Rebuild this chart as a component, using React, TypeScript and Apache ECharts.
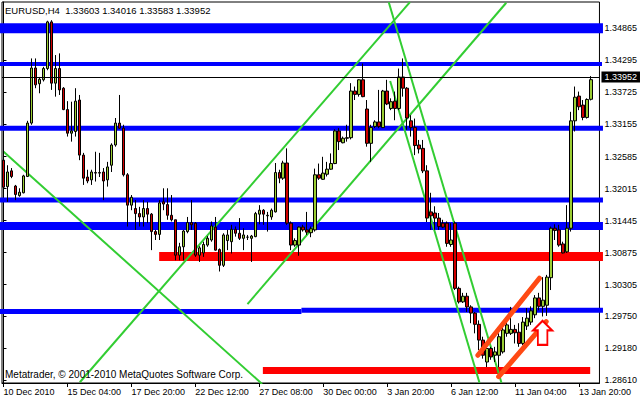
import React, { useEffect, useRef } from 'react';
import * as echarts from 'echarts';

const FONT = '"Liberation Sans", Arial, sans-serif';

const titleText = 'EURUSD,H4  1.33603 1.34016 1.33583 1.33952';
const copyrightText = 'Metatrader, \u00a9 2001-2010 MetaQuotes Software Corp.';

// time axis tick labels and the bar index each one marks
const timeLabels = [
  '10 Dec 2010', '15 Dec 04:00', '17 Dec 20:00', '22 Dec 12:00', '27 Dec 08:00',
  '30 Dec 00:00', '3 Jan 20:00', '6 Jan 12:00', '11 Jan 04:00', '13 Jan 20:00',
];
const timeLabelBars = [0, 16, 32, 48, 64, 80, 96, 112, 128, 144];

// price axis tick labels
const priceTicks = [
  1.2861, 1.2918, 1.2975, 1.30305, 1.30875, 1.31445, 1.32015, 1.32585, 1.33155, 1.33725, 1.34295, 1.34865,
];

const bidPrice = 1.33952;

// H4 candles: [open, close, low, high]
const candles: number[][] = [
  [1.3252, 1.3204, 1.3199, 1.3274], [1.3205, 1.3231, 1.3178, 1.3243], [1.3233, 1.3223, 1.3220, 1.3238],
  [1.3206, 1.3191, 1.3181, 1.3208], [1.3189, 1.3195, 1.3187, 1.3202], [1.3194, 1.3224, 1.3193, 1.3226],
  [1.3223, 1.3318, 1.3222, 1.3322], [1.3318, 1.3416, 1.3315, 1.3433], [1.3416, 1.3386, 1.3380, 1.3433],
  [1.3388, 1.3396, 1.3371, 1.3400], [1.3395, 1.3415, 1.3392, 1.3418], [1.3415, 1.3498, 1.3412, 1.3500],
  [1.3498, 1.3389, 1.3377, 1.3501], [1.3389, 1.3415, 1.3365, 1.3439], [1.3415, 1.3377, 1.3368, 1.3442],
  [1.3380, 1.3342, 1.3341, 1.3382], [1.3342, 1.3300, 1.3294, 1.3357], [1.3300, 1.3304, 1.3285, 1.3356],
  [1.3303, 1.3357, 1.3294, 1.3380], [1.3359, 1.3261, 1.3252, 1.3368], [1.3261, 1.3220, 1.3208, 1.3265],
  [1.3222, 1.3215, 1.3211, 1.3235], [1.3217, 1.3231, 1.3208, 1.3235], [1.3230, 1.3229, 1.3214, 1.3267],
  [1.3229, 1.3230, 1.3222, 1.3265], [1.3231, 1.3215, 1.3181, 1.3238], [1.3217, 1.3240, 1.3205, 1.3249],
  [1.3243, 1.3279, 1.3231, 1.3282], [1.3279, 1.3318, 1.3276, 1.3327], [1.3318, 1.3309, 1.3308, 1.3368],
  [1.3309, 1.3226, 1.3223, 1.3315], [1.3226, 1.3172, 1.3134, 1.3229], [1.3172, 1.3186, 1.3163, 1.3190],
  [1.3166, 1.3157, 1.3128, 1.3181], [1.3157, 1.3151, 1.3134, 1.3169], [1.3151, 1.3166, 1.3134, 1.3181],
  [1.3166, 1.3156, 1.3140, 1.3178], [1.3156, 1.3125, 1.3092, 1.3158], [1.3125, 1.3120, 1.3110, 1.3128],
  [1.3120, 1.3176, 1.3110, 1.3181], [1.3178, 1.3174, 1.3163, 1.3202], [1.3173, 1.3154, 1.3146, 1.3202],
  [1.3154, 1.3146, 1.3143, 1.3190], [1.3146, 1.3083, 1.3074, 1.3146], [1.3083, 1.3098, 1.3074, 1.3105],
  [1.3098, 1.3126, 1.3074, 1.3128], [1.3125, 1.3141, 1.3122, 1.3151], [1.3141, 1.3137, 1.3128, 1.3181],
  [1.3140, 1.3083, 1.3080, 1.3142], [1.3083, 1.3096, 1.3071, 1.3099], [1.3087, 1.3102, 1.3080, 1.3107],
  [1.3101, 1.3113, 1.3098, 1.3117], [1.3110, 1.3135, 1.3107, 1.3143], [1.3133, 1.3092, 1.3091, 1.3151],
  [1.3093, 1.3065, 1.3054, 1.3095], [1.3065, 1.3119, 1.3062, 1.3122], [1.3109, 1.3119, 1.3092, 1.3128],
  [1.3107, 1.3129, 1.3086, 1.3137], [1.3129, 1.3122, 1.3116, 1.3134], [1.3122, 1.3113, 1.3110, 1.3149],
  [1.3113, 1.3119, 1.3092, 1.3131], [1.3115, 1.3115, 1.3110, 1.3119], [1.3113, 1.3117, 1.3071, 1.3119],
  [1.3116, 1.3157, 1.3115, 1.3160], [1.3156, 1.3163, 1.3138, 1.3172], [1.3163, 1.3156, 1.3137, 1.3165],
  [1.3153, 1.3154, 1.3125, 1.3160], [1.3151, 1.3163, 1.3146, 1.3166], [1.3160, 1.3230, 1.3159, 1.3247],
  [1.3230, 1.3220, 1.3211, 1.3235], [1.3220, 1.3247, 1.3217, 1.3251], [1.3247, 1.3140, 1.3137, 1.3273],
  [1.3140, 1.3101, 1.3092, 1.3143], [1.3101, 1.3109, 1.3098, 1.3113], [1.3101, 1.3133, 1.3082, 1.3134],
  [1.3133, 1.3128, 1.3125, 1.3137], [1.3128, 1.3124, 1.3119, 1.3160], [1.3123, 1.3130, 1.3115, 1.3134],
  [1.3128, 1.3226, 1.3125, 1.3237], [1.3226, 1.3220, 1.3217, 1.3246], [1.3218, 1.3229, 1.3217, 1.3258],
  [1.3227, 1.3236, 1.3223, 1.3249], [1.3236, 1.3246, 1.3235, 1.3264], [1.3246, 1.3304, 1.3245, 1.3307],
  [1.3304, 1.3285, 1.3270, 1.3309], [1.3283, 1.3291, 1.3282, 1.3294], [1.3291, 1.3292, 1.3285, 1.3315],
  [1.3292, 1.3375, 1.3289, 1.3389], [1.3375, 1.3369, 1.3359, 1.3383], [1.3369, 1.3395, 1.3365, 1.3396],
  [1.3395, 1.3365, 1.3364, 1.3424], [1.3343, 1.3282, 1.3276, 1.3359], [1.3282, 1.3310, 1.3249, 1.3315],
  [1.3312, 1.3320, 1.3309, 1.3323], [1.3320, 1.3312, 1.3309, 1.3377], [1.3310, 1.3375, 1.3309, 1.3377],
  [1.3375, 1.3352, 1.3350, 1.3395], [1.3344, 1.3356, 1.3341, 1.3362], [1.3357, 1.3344, 1.3323, 1.3374],
  [1.3344, 1.3400, 1.3341, 1.3415], [1.3400, 1.3380, 1.3365, 1.3433], [1.3380, 1.3327, 1.3306, 1.3382],
  [1.3322, 1.3310, 1.3294, 1.3332], [1.3310, 1.3278, 1.3261, 1.3326], [1.3279, 1.3272, 1.3264, 1.3288],
  [1.3273, 1.3233, 1.3229, 1.3288], [1.3233, 1.3149, 1.3142, 1.3243], [1.3160, 1.3153, 1.3128, 1.3194],
  [1.3158, 1.3149, 1.3128, 1.3170], [1.3149, 1.3134, 1.3128, 1.3158], [1.3140, 1.3133, 1.3131, 1.3146],
  [1.3140, 1.3104, 1.3098, 1.3143], [1.3102, 1.3110, 1.3098, 1.3140], [1.3140, 1.3024, 1.3021, 1.3143],
  [1.3024, 1.3000, 1.2997, 1.3027], [1.3000, 1.3010, 1.2998, 1.3016], [1.3010, 1.2991, 1.2982, 1.3016],
  [1.2991, 1.2980, 1.2962, 1.2994], [1.2980, 1.2960, 1.2944, 1.2982], [1.2960, 1.2932, 1.2914, 1.2967],
  [1.2932, 1.2905, 1.2899, 1.2938], [1.2893, 1.2917, 1.2884, 1.2920], [1.2917, 1.2902, 1.2897, 1.2920],
  [1.2905, 1.2911, 1.2893, 1.2920], [1.2905, 1.2938, 1.2884, 1.2944], [1.2911, 1.2950, 1.2908, 1.2962],
  [1.2944, 1.2959, 1.2938, 1.2965], [1.2944, 1.2951, 1.2941, 1.2991], [1.2951, 1.2945, 1.2926, 1.2959],
  [1.2946, 1.2926, 1.2920, 1.2962], [1.2926, 1.2964, 1.2923, 1.2973], [1.2957, 1.2971, 1.2950, 1.2989],
  [1.2964, 1.2984, 1.2959, 1.2992], [1.2977, 1.3007, 1.2971, 1.3012], [1.3007, 1.2992, 1.2985, 1.3016],
  [1.2992, 1.3003, 1.2974, 1.3044], [1.2994, 1.3044, 1.2975, 1.3048], [1.3043, 1.3131, 1.3021, 1.3134],
  [1.3131, 1.3127, 1.3110, 1.3138], [1.3128, 1.3101, 1.3098, 1.3137], [1.3103, 1.3087, 1.3086, 1.3107],
  [1.3089, 1.3131, 1.3087, 1.3172], [1.3131, 1.3322, 1.3125, 1.3338], [1.3322, 1.3364, 1.3303, 1.3383],
  [1.3366, 1.3347, 1.3341, 1.3374], [1.3350, 1.3328, 1.3323, 1.3359], [1.3328, 1.3360, 1.3326, 1.3362],
  [1.33603, 1.33952, 1.33583, 1.34016],
];

// horizontal objects: [fromBar, toBar, price]
const blueLevels: number[][] = [
  [-1, 150, 1.34865], [-1, 150, 1.3423], [-1, 150, 1.3309], [-1, 150, 1.3181], [-1, 150, 1.3135],
  [-1, 74.55, 1.29828], [74.55, 150, 1.29851],
];
const redLevels: number[][] = [
  [38.95, 150, 1.30807], [64.9, 146.8, 1.28779],
];

// trend lines: [bar1, price1, bar2, price2]
const greenLines: number[][] = [
  [-0.1, 1.3268, 64.7, 1.2854],
  [19.1, 1.2857, 101.7, 1.3533],
  [61.05, 1.2996, 125.8, 1.3532],
  [96.4, 1.3533, 124.6, 1.2856],
  [96.75, 1.3393, 119.1, 1.2856],
];
const orangeLines: number[][] = [
  [118.7, 1.2905, 134.1, 1.3042],
  [123.9, 1.2867, 135.8, 1.2965],
];

// up-arrow object: [bar, price]
const arrowPoint = [134.9, 1.2945];

// styles (kept apart from data)
const blueWidths = [10, 4, 5, 5, 8, 5, 5];
const redWidths = [9, 7];

function buildOption() {
  const series: any[] = [];
  blueLevels.forEach((s, k) => {
    series.push({
      type: 'line', data: [[s[0], s[2]], [s[1], s[2]]], symbol: 'none', silent: true, z: 1,
      clip: true, lineStyle: { color: '#0000ff', width: blueWidths[k], cap: 'butt' },
    });
  });
  redLevels.forEach((s, k) => {
    series.push({
      type: 'line', data: [[s[0], s[2]], [s[1], s[2]]], symbol: 'none', silent: true, z: 1,
      clip: true, lineStyle: { color: '#ff0000', width: redWidths[k], cap: 'butt' },
    });
  });
  greenLines.forEach((l) => {
    series.push({
      type: 'line', data: [[l[0], l[1]], [l[2], l[3]]], symbol: 'none', silent: true, z: 2,
      clip: true, lineStyle: { color: '#32cd32', width: 2 },
    });
  });
  series.push({
    type: 'candlestick',
    data: candles.map((c, i) => [i, c[0], c[1], c[2], c[3]]),
    encode: { x: 0, y: [1, 2, 3, 4] },
    barWidth: 3,
    silent: true,
    z: 3,
    itemStyle: {
      color: '#9acd32', color0: '#d00000', borderColor: '#000', borderColor0: '#000',
      borderColorDoji: '#000', borderWidth: 1,
    },
    markLine: {
      silent: true, symbol: ['none', 'none'], animation: false,
      data: [{ yAxis: bidPrice }],
      lineStyle: { color: '#000', width: 1, type: 'solid' },
      label: {
        show: true, position: 'end', formatter: bidPrice.toFixed(5), color: '#fff',
        backgroundColor: '#000', padding: [1, 3, 1, 3], distance: 2, fontSize: 9, fontFamily: FONT,
      },
    },
  });
  orangeLines.forEach((l) => {
    series.push({
      type: 'line', data: [[l[0], l[1]], [l[2], l[3]]], symbol: 'none', silent: true, z: 4,
      clip: true, lineStyle: { color: '#ff4a14', width: 5, cap: 'round' },
    });
  });
  series.push({
    type: 'scatter', data: [arrowPoint], silent: true, z: 5,
    symbol: 'path://M10,0 L20,10 L15,10 L15,25 L5,25 L5,10 L0,10 Z',
    symbolSize: [19, 24], symbolKeepAspect: false,
    itemStyle: { color: '#ffffff', borderColor: '#ff0000', borderWidth: 2, opacity: 1 },
  });

  return {
    animation: false,
    backgroundColor: '#ffffff',
    textStyle: { fontFamily: FONT },
    grid: {
      left: 2, right: 40, top: 2, bottom: 17, show: true,
      borderColor: '#000', borderWidth: 1, backgroundColor: 'transparent',
    },
    xAxis: {
      type: 'value', min: -0.375, max: 149.125, position: 'bottom',
      axisLine: { show: true, lineStyle: { color: '#000', width: 1 } },
      axisTick: { show: true, customValues: timeLabelBars, length: 4, lineStyle: { color: '#000' } },
      axisLabel: {
        show: true, customValues: timeLabelBars, align: 'left', margin: 4, fontSize: 9,
        color: '#000', fontFamily: FONT,
        formatter: (v: number) => {
          const k = timeLabelBars.indexOf(Math.round(v));
          return k >= 0 ? timeLabels[k] : '';
        },
      },
      splitLine: { show: false },
    },
    yAxis: {
      type: 'value', position: 'right', min: 1.285566, max: 1.353336,
      axisLine: { show: true, lineStyle: { color: '#000', width: 1 } },
      axisTick: { show: true, customValues: priceTicks, length: 3, lineStyle: { color: '#000' } },
      axisLabel: {
        show: true, customValues: priceTicks, margin: 5, fontSize: 9, color: '#000', fontFamily: FONT,
        formatter: (v: number) => v.toFixed(5),
      },
      splitLine: { show: false },
    },
    graphic: [
      {
        type: 'text', left: 5, top: 5, z: 10,
        style: { text: titleText, fontSize: 9.5, fill: '#000', fontFamily: FONT },
      },
      {
        type: 'text', left: 5, top: 369, z: 10,
        style: { text: copyrightText, fontSize: 10, fill: '#000', fontFamily: FONT },
      },
    ],
    series,
  };
}

export default function App() {
  const ref = useRef<HTMLDivElement>(null);
  useEffect(() => {
    if (!ref.current) return;
    const chart = echarts.init(ref.current, undefined, { renderer: 'svg' });
    chart.setOption(buildOption() as any);
    return () => chart.dispose();
  }, []);
  return (
    <div
      ref={ref}
      style={{ position: 'fixed', left: 0, top: 0, width: 640, height: 400, background: '#fff' }}
    />
  );
}
